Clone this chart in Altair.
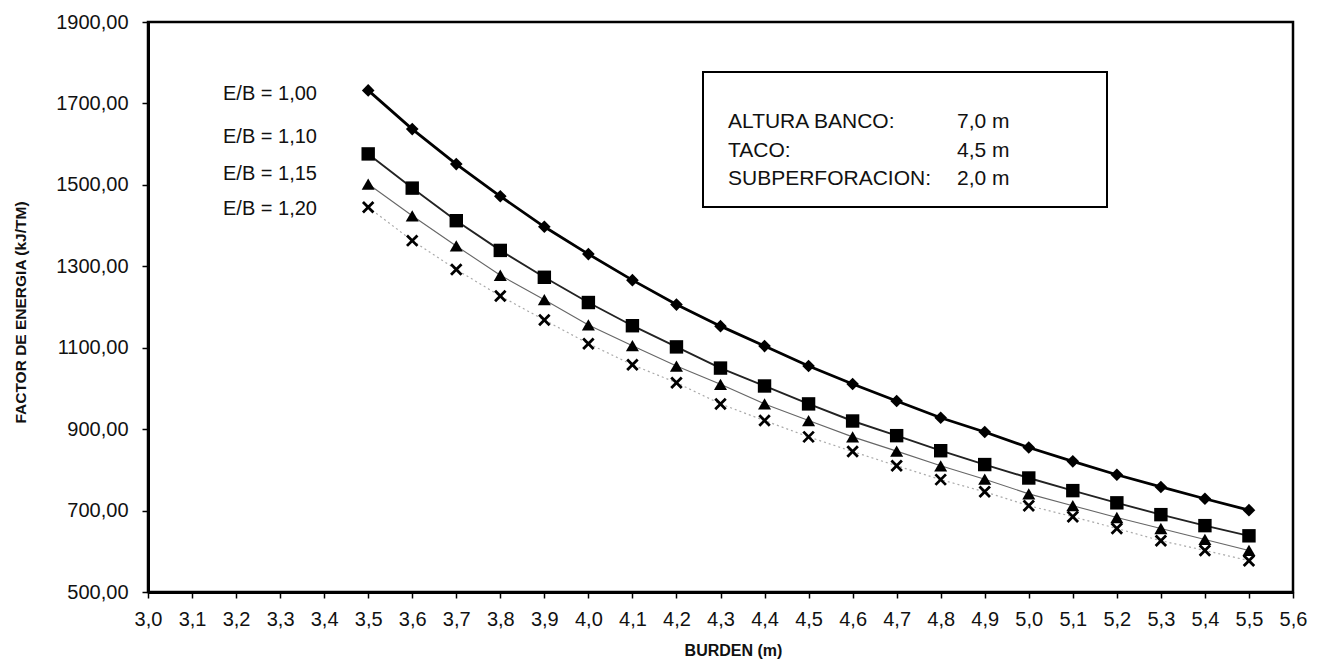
import altair as alt
import pandas as pd

burden = [3.5, 3.6, 3.7, 3.8, 3.9, 4.0, 4.1, 4.2, 4.3, 4.4, 4.5,
          4.6, 4.7, 4.8, 4.9, 5.0, 5.1, 5.2, 5.3, 5.4, 5.5]
e_100 = [1732, 1637, 1551, 1472, 1397, 1330, 1266, 1206, 1153, 1104, 1055,
         1011, 969, 928, 893, 855, 821, 788, 758, 729, 701]
e_110 = [1576, 1492, 1412, 1339, 1273, 1211, 1154, 1102, 1050, 1006, 962,
         920, 884, 847, 813, 780, 749, 719, 690, 663, 638]
e_115 = [1502, 1424, 1350, 1278, 1218, 1156, 1105, 1055, 1010, 962, 921,
         881, 846, 810, 777, 741, 712, 683, 656, 629, 602]
e_120 = [1445, 1363, 1292, 1227, 1168, 1110, 1058, 1014, 962, 921, 881,
         845, 810, 776, 746, 712, 685, 656, 626, 602, 577]

series_names = ["E/B = 1,00", "E/B = 1,10", "E/B = 1,15", "E/B = 1,20"]
series_values = [e_100, e_110, e_115, e_120]

x_ticks = [round(3.0 + 0.1 * i, 1) for i in range(27)]
y_ticks = [500, 700, 900, 1100, 1300, 1500, 1700, 1900]

box_labels = ["ALTURA BANCO:", "TACO:", "SUBPERFORACION:"]
box_values = ["7,0 m", "4,5 m", "2,0 m"]

FONT = "Liberation Sans"

x_enc = alt.X(
    "B:Q",
    scale=alt.Scale(domain=[3.0, 5.6], nice=False, zero=False),
    axis=alt.Axis(
        values=x_ticks,
        labelExpr="replace(format(datum.value, '.1f'), '.', ',')",
        title="BURDEN (m)",
        grid=False,
        tickSize=6,
        labelPadding=11,
        labelFontSize=20,
        labelFont=FONT,
        labelColor="#111",
        titleFont=FONT,
        titleFontSize=16,
        titleFontWeight="bold",
        titleColor="#111",
        titleY=50,
        titleX=585,
        titleBaseline="top",
        domainColor="black",
        domainWidth=3,
        tickColor="black",
        tickWidth=1.5,
        labelFlush=False,
    ),
)
y_enc = alt.Y(
    "E:Q",
    scale=alt.Scale(domain=[500, 1900], nice=False, zero=False),
    axis=alt.Axis(
        values=y_ticks,
        labelExpr="replace(format(datum.value, '.2f'), '.', ',')",
        title="FACTOR DE ENERGIA (kJ/TM)",
        grid=False,
        tickSize=6,
        labelPadding=14,
        labelFontSize=20,
        labelFont=FONT,
        labelColor="#111",
        titleFont=FONT,
        titleFontSize=15.5,
        titleFontWeight="bold",
        titleColor="#111",
        titleX=-128,
        titleY=290,
        titleAngle=270,
        titleBaseline="middle",
        domainColor="black",
        domainWidth=3,
        tickColor="black",
        tickWidth=1.5,
        labelFlush=False,
    ),
)

X_PATH = "M-1,-1L1,1M-1,1L1,-1"

styles = [
    dict(line=dict(color="black", strokeWidth=2.8),
         point=dict(shape="diamond", size=160, filled=True, color="black")),
    dict(line=dict(color="#222", strokeWidth=1.9),
         point=dict(shape="square", size=180, filled=True, color="black")),
    dict(line=dict(color="#666", strokeWidth=1.1),
         point=dict(shape="triangle-up", size=170, filled=True, color="black")),
    dict(line=dict(color="#aaa", strokeWidth=1.2, strokeDash=[2, 3]),
         point=dict(shape=X_PATH, size=110, filled=False, color="black",
                    strokeWidth=2.8)),
]

layers = []
for name, vals, st in zip(series_names, series_values, styles):
    df = pd.DataFrame({"B": burden, "E": vals, "serie": name})
    base = alt.Chart(df)
    layers.append(base.mark_line(**st["line"]).encode(x=x_enc, y=y_enc))
    layers.append(base.mark_point(opacity=1, **st["point"]).encode(x=x_enc, y=y_enc))

# series labels (left of curves)
lab_df = pd.DataFrame({"t": series_names, "py": [72, 115, 152, 187]})
labels = alt.Chart(lab_df).mark_text(
    align="left", baseline="middle", font=FONT, fontSize=20, color="#111"
).encode(x=alt.value(75), y=alt.Y("py:Q", scale=None), text="t:N")

# info box
box = alt.Chart(pd.DataFrame({"a": [0]})).mark_rect(
    fill="white", stroke="black", strokeWidth=2
).encode(x=alt.value(555), x2=alt.value(959), y=alt.value(50), y2=alt.value(185))

box_df = pd.DataFrame({"lab": box_labels, "val": box_values, "py": [100, 129, 157]})
box_lab = alt.Chart(box_df).mark_text(
    align="left", baseline="middle", font=FONT, fontSize=21, color="#111"
).encode(x=alt.value(580), y=alt.Y("py:Q", scale=None), text="lab:N")
box_val = alt.Chart(box_df).mark_text(
    align="left", baseline="middle", font=FONT, fontSize=21, color="#111"
).encode(x=alt.value(809), y=alt.Y("py:Q", scale=None), text="val:N")

chart = alt.layer(*layers, labels, box, box_lab, box_val).properties(
    width=1145,
    height=570,
    autosize=alt.AutoSizeParams(type="none"),
    padding={"left": 148, "top": 22, "right": 30, "bottom": 70},
    background="white",
).configure_view(stroke="black", strokeWidth=2.5)

chart.save("out.html", embed_options={"renderer": "svg", "actions": False})
